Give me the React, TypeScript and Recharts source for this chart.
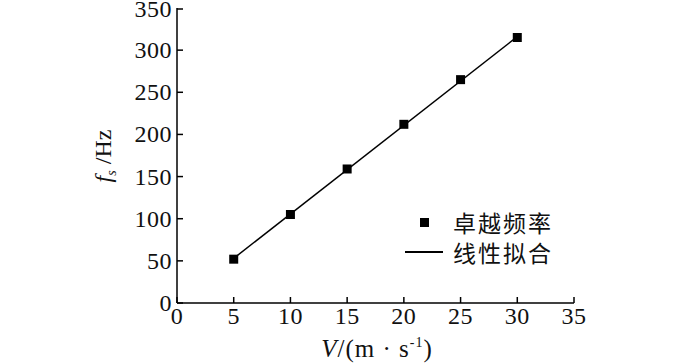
import { ComposedChart, XAxis, YAxis, Scatter, Line } from 'recharts';

const speeds = [5, 10, 15, 20, 25, 30];
const freqs = [52, 105, 159, 212, 265, 315];
const fitSpeeds = [5, 30];
const fitFreqs = [53, 316];
const xTicks = [0, 5, 10, 15, 20, 25, 30, 35];
const yTicks = [0, 50, 100, 150, 200, 250, 300, 350];
const legendNames = ['卓越频率', '线性拟合'];

const points = speeds.map((v, i) => ({ v, f: freqs[i] }));
const fit = fitSpeeds.map((v, i) => ({ v, f: fitFreqs[i] }));

const SERIF = '"Liberation Serif", "Times New Roman", serif';
const CJK = '"Noto Sans CJK SC", sans-serif';

function YTick(props: any) {
  const { x, y, payload } = props;
  return (
    <g>
      <line x1={x + 5} x2={x + 11} y1={y} y2={y} stroke="#000" strokeWidth={1.5} />
      <text x={x} y={y} textAnchor="end" dominantBaseline="central" fontFamily={SERIF} fontSize={24} letterSpacing={0.5} fill="#111">
        {payload.value}
      </text>
    </g>
  );
}

function XTick(props: any) {
  const { x, y, payload } = props;
  return (
    <g>
      <line x1={x} x2={x} y1={y - 5} y2={y - 11} stroke="#000" strokeWidth={1.5} />
      <text x={x} y={y + 16} textAnchor="middle" fontFamily={SERIF} fontSize={24} letterSpacing={0.5} fill="#111">
        {payload.value}
      </text>
    </g>
  );
}

function SquareDot(props: any) {
  const { cx, cy } = props;
  return <rect x={cx - 4.5} y={cy - 4.5} width={9} height={9} fill="#000" />;
}

function XLabel() {
  return (
    <text x={377} y={357} textAnchor="middle" fontFamily={SERIF} fontSize={25} letterSpacing={1} fill="#111">
      <tspan fontStyle="italic">V</tspan>
      <tspan>/(m · s</tspan>
      <tspan fontSize={14} dy={-10}>-1</tspan>
      <tspan dy={10}>)</tspan>
    </text>
  );
}

function YLabel() {
  return (
    <text
      x={0}
      y={0}
      transform="translate(111,156) rotate(-90)"
      textAnchor="middle"
      fontFamily={SERIF}
      fontSize={24}
      fill="#111"
    >
      <tspan fontStyle="italic">f</tspan>
      <tspan fontStyle="italic" fontSize={14} dy={5}>s</tspan>
      <tspan dy={-5}> /Hz</tspan>
    </text>
  );
}

function LegendBox() {
  const row = { display: 'flex', alignItems: 'center', height: 30 } as const;
  const txt = { fontFamily: CJK, fontSize: 23, letterSpacing: 2, color: '#111', lineHeight: '26px' };
  return (
    <div style={{ position: 'absolute', left: 405, top: 207, width: 170 }}>
      <div style={row}>
        <div style={{ width: 38, display: 'flex', justifyContent: 'center', marginRight: 10 }}>
          <div style={{ width: 9, height: 9, background: '#000' }} />
        </div>
        <span style={txt}>{legendNames[0]}</span>
      </div>
      <div style={row}>
        <div style={{ width: 38, height: 1.5, background: '#000', marginRight: 10 }} />
        <span style={txt}>{legendNames[1]}</span>
      </div>
    </div>
  );
}

export default function App() {
  return (
    <div style={{ position: 'absolute', left: 0, top: 0, width: 700, height: 363, background: '#fff' }}>
      <ComposedChart width={700} height={363} margin={{ top: 8, right: 126, bottom: 30, left: 0 }}>
        <XAxis
          type="number"
          dataKey="v"
          domain={[0, 35]}
          ticks={xTicks}
          tickSize={0}
          tickMargin={5}
          tick={<XTick />}
          axisLine={{ stroke: '#000', strokeWidth: 1.5 }}
          height={30}
          label={<XLabel />}
        />
        <YAxis
          type="number"
          dataKey="f"
          domain={[0, 350]}
          ticks={yTicks}
          tickSize={0}
          tickMargin={5}
          tick={<YTick />}
          axisLine={{ stroke: '#000', strokeWidth: 1.5 }}
          width={177}
          label={<YLabel />}
        />
        <Line
          data={fit}
          dataKey="f"
          stroke="#000"
          strokeWidth={1.5}
          dot={false}
          isAnimationActive={false}
        />
        <Scatter data={points} dataKey="f" fill="#000" shape={<SquareDot />} isAnimationActive={false} />
      </ComposedChart>
      <LegendBox />
    </div>
  );
}
